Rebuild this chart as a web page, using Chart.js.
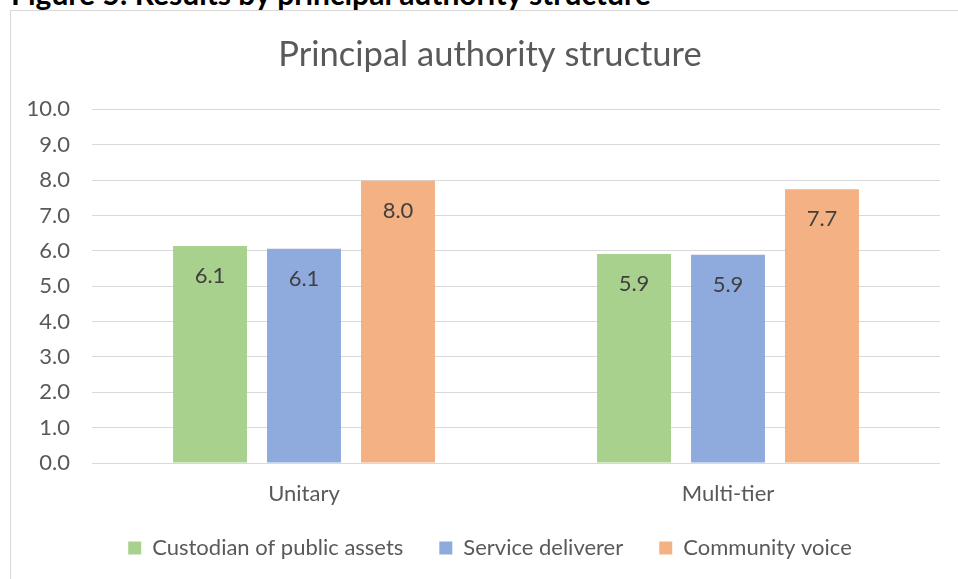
<!DOCTYPE html>
<html>
<head>
<meta charset="utf-8">
<script src="https://cdn.jsdelivr.net/npm/chart.js@4/dist/chart.umd.min.js"></script>
<style>
  html, body { margin: 0; padding: 0; width: 958px; height: 579px; overflow: hidden; background: #fff; }
  #heading {
    position: absolute; left: 11px; top: -25px;
    font: bold 30px Lato, "Liberation Sans", sans-serif; color: #000; white-space: nowrap;
  }
  #frame {
    position: absolute; left: 10px; top: 10px; width: 960px; height: 580px;
    border-left: 1px solid #d9d9d9; border-top: 1px solid #d9d9d9; box-sizing: border-box;
  }
  #chart { position: absolute; left: 10px; top: 10px; }
</style>
</head>
<body>
<div id="heading">Figure 5: Results by principal authority structure</div>
<div id="frame"></div>
<canvas id="chart" width="960" height="580"></canvas>
<script>
// Scores by principal authority structure
const categories = ['Unitary', 'Multi-tier'];
const custodianValues = [6.14, 5.91];
const serviceValues = [6.06, 5.89];
const communityValues = [7.98, 7.74];
const seriesNames = ['Custodian of public assets', 'Service deliverer', 'Community voice'];
const seriesColors = ['#A9D18E', '#8FAADC', '#F4B183'];
const yTicks = [0, 1, 2, 3, 4, 5, 6, 7, 8, 9, 10];

const FONT = 'Lato, "Liberation Sans", sans-serif';
const TEXT = '#595959';
const LABEL_SIZE = 22;

// Value labels written inside the top of each bar
const barValueLabels = {
  id: 'barValueLabels',
  afterDatasetsDraw(chart) {
    const ctx = chart.ctx;
    ctx.save();
    ctx.font = LABEL_SIZE + 'px ' + FONT;
    ctx.fillStyle = '#404040';
    ctx.textAlign = 'center';
    ctx.textBaseline = 'middle';
    chart.data.datasets.forEach((ds, i) => {
      chart.getDatasetMeta(i).data.forEach((bar, j) => {
        ctx.fillText(ds.data[j].toFixed(1), bar.x, bar.y + 30);
      });
    });
    ctx.restore();
  }
};

// Pull the legend up a little closer to the category labels
const legendNudge = {
  id: 'legendNudge',
  afterLayout(chart) {
    if (chart.legend) {
      chart.legend.top -= 10;
      chart.legend.bottom -= 10;
    }
  }
};

const seriesData = [custodianValues, serviceValues, communityValues];

new Chart(document.getElementById('chart'), {
  type: 'bar',
  data: {
    labels: categories,
    datasets: seriesNames.map((name, i) => ({
      label: name,
      data: seriesData[i],
      backgroundColor: seriesColors[i],
      borderWidth: 0,
      categoryPercentage: 0.665,
      barPercentage: 0.787
    }))
  },
  options: {
    responsive: false,
    devicePixelRatio: 1,
    animation: false,
    layout: { padding: { left: 0, right: 0, top: 0, bottom: 11 } },
    plugins: {
      title: {
        display: true,
        text: 'Principal authority structure',
        color: TEXT,
        font: { family: FONT, size: 34.5, weight: 'normal', lineHeight: 1.2 },
        padding: { top: 24, bottom: 34 }
      },
      legend: {
        position: 'bottom',
        labels: {
          color: TEXT,
          font: { family: FONT, size: LABEL_SIZE },
          boxWidth: 13,
          boxHeight: 13,
          padding: 36
        }
      },
      tooltip: { enabled: false }
    },
    scales: {
      x: {
        grid: { display: false, drawTicks: false },
        border: { display: false },
        ticks: { color: TEXT, font: { family: FONT, size: LABEL_SIZE }, padding: 18 },
        afterFit(scale) { scale.height = 48; }
      },
      y: {
        min: 0,
        max: 10,
        afterBuildTicks(scale) { scale.ticks = yTicks.map(v => ({ value: v })); },
        grid: { color: '#D9D9D9', lineWidth: 1, drawTicks: false },
        border: { display: false },
        ticks: {
          color: TEXT,
          font: { family: FONT, size: LABEL_SIZE },
          padding: 22,
          callback: v => v.toFixed(1)
        },
        afterFit(scale) { scale.width = 82; }
      },
      // empty margin on the right of the plot
      yRight: {
        position: 'right',
        min: 0,
        max: 10,
        grid: { display: false, drawTicks: false },
        border: { display: false },
        ticks: { display: false },
        afterFit(scale) { scale.width = 30; }
      }
    }
  },
  plugins: [barValueLabels, legendNudge]
});
</script>
</body>
</html>
